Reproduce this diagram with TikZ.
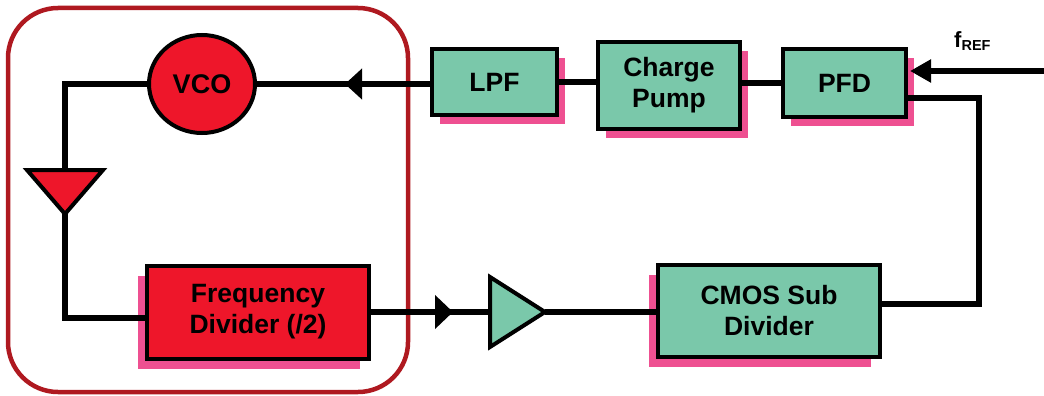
\documentclass[tikz,border=0pt]{standalone}
\usepackage{fontspec}
\setmainfont{Liberation Sans}
\usetikzlibrary{shapes.geometric,arrows.meta,shadows,calc}
\definecolor{boxgreen}{RGB}{122,200,170}
\definecolor{boxred}{RGB}{238,22,42}
\definecolor{shpink}{RGB}{238,80,145}
\definecolor{framered}{RGB}{175,25,32}
\begin{document}
\begin{tikzpicture}[x=1pt,y=-1pt,
  wire/.style={line width=6pt, line join=miter},
  blk/.style={draw=black, line width=4pt, inner sep=0pt, align=center,
    font=\bfseries\fontsize{26.5}{31}\selectfont},
  gblk/.style={blk, fill=boxgreen},
  rblk/.style={blk, fill=boxred},
  shR/.style={general shadow={fill=shpink, shadow xshift=8pt, shadow yshift=-9pt}},
  shL/.style={general shadow={fill=shpink, shadow xshift=-9pt, shadow yshift=-10pt}},
  tri/.style={draw=black, line width=4pt, line join=miter},
  tipA/.style={-{Triangle[length=17pt,width=30pt]}},
]
\useasboundingbox (0,0) rectangle (1044,396);
% frame
\draw[framered, line width=4.5pt, rounded corners=50pt] (8,8) rectangle (408,392);

% blocks
\node[blk, ellipse, fill=boxred, minimum width=106pt, minimum height=98pt,
  font=\bfseries\fontsize{27}{31}\selectfont] (vco) at (202,84) {VCO};
\node[gblk, shR, minimum width=125pt, minimum height=65pt] (lpf) at (494.5,82) {LPF};
\node[gblk, shR, minimum width=142pt, minimum height=87pt] (cp) at (669,85.5) {Charge\\Pump};
\node[gblk, shR, minimum width=123pt, minimum height=68pt] (pfd) at (844.5,83) {PFD};
\node[rblk, shL, minimum width=222pt, minimum height=93pt] (fdiv) at (258,312) {Frequency\\Divider (/2)};
\node[gblk, shL, minimum width=222pt, minimum height=92pt] (cmos) at (769,311) {CMOS Sub\\Divider};

% triangles
\coordinate (t1a) at (27,170);
\coordinate (t1b) at (103,170);
\coordinate (t1c) at (65,214);
\coordinate (t1in) at (65,170);
\draw[tri, fill=boxred] (t1a) -- (t1b) -- (t1c) -- cycle;
\coordinate (t2a) at (490,277);
\coordinate (t2b) at (490,347);
\coordinate (t2c) at (545,312);
\coordinate (t2in) at (490,312);
\draw[tri, fill=boxgreen] (t2a) -- (t2b) -- (t2c) -- cycle;

% connectors
\draw[wire] (pfd.west) -- (cp.east |- pfd.west);
\draw[wire] (cp.west |- lpf.east) -- (lpf.east);
\coordinate (arrA) at (345,84);
\coordinate (lpfout) at (lpf.west |- vco.east);
\draw[wire] (lpfout) -- (vco.east);
\draw[wire, tipA] (lpfout) -- (arrA);
\draw[wire] (vco.west) -| (t1in);
\coordinate (fdin) at ([yshift=-6pt]fdiv.west);
\draw[wire] (t1c) |- (fdin);
\coordinate (arrB) at (453,312);
\draw[wire] (fdiv.east) -- (t2in);
\draw[wire, -{Triangle[length=18pt,width=33pt]}] (fdiv.east) -- (arrB);
\draw[wire] (t2c) -- (cmos.west |- t2c);
\coordinate (cmosout) at ([yshift=7pt]cmos.east);
\coordinate (pfdfb) at ([yshift=-15pt]pfd.east);
\coordinate (rc) at (979,200);
\draw[wire] (cmosout) -| (rc) |- (pfdfb);
\coordinate (frefsrc) at (1044,71);
\coordinate (frefin) at (910,71);
\draw[wire, -{Triangle[length=21pt,width=22pt]}] (frefsrc) -- (frefin);
\node[inner sep=0pt, anchor=base west] (fref) at (954,48)
  {\bfseries\fontsize{22}{22}\selectfont f\raisebox{-3pt}{\fontsize{14.5}{14.5}\selectfont REF}};
\end{tikzpicture}
\end{document}
